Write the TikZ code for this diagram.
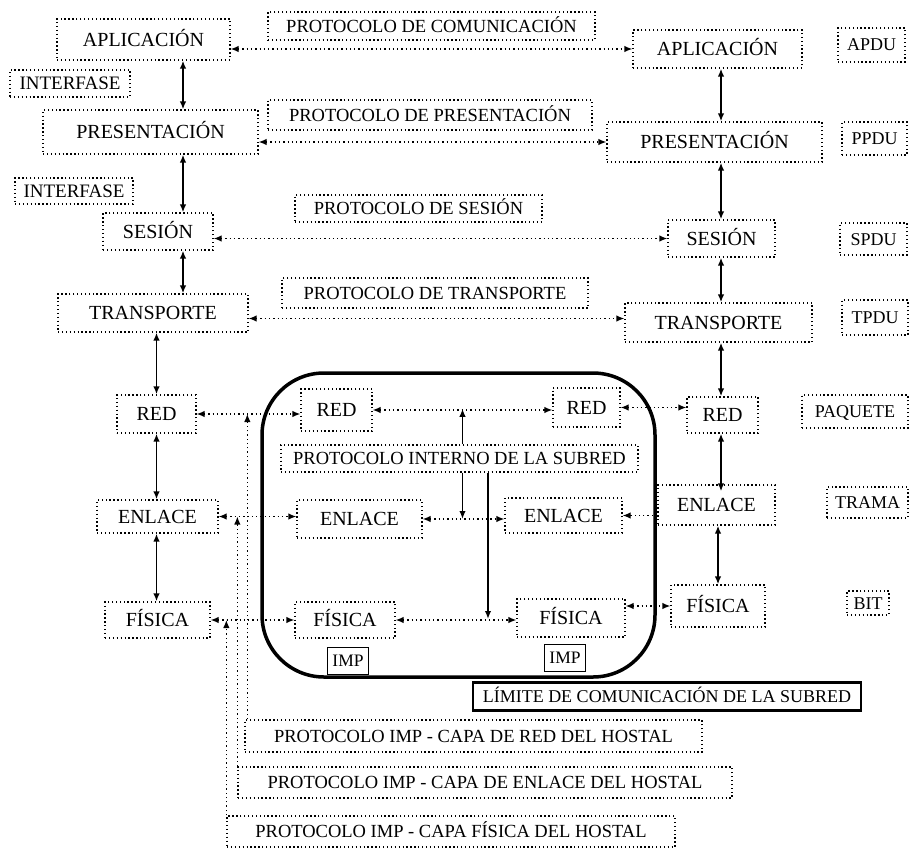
\documentclass[tikz,border=0pt]{standalone}
\usepackage{fontspec}
\setmainfont{Liberation Serif}
\usepackage{tikz}
\usetikzlibrary{calc,arrows.meta}
\tikzset{
  wh/.style 2 args={minimum width=#1pt,minimum height=#2pt},
  dbox/.style={draw,line width=1.3pt,dash pattern=on 1.3pt off 2.6pt,inner sep=0pt,align=center},
  lay/.style={dbox,font=\fontsize{20}{24}\selectfont,text height=13.5pt,text depth=0pt},
  pdu/.style={dbox,font=\fontsize{18}{22}\selectfont,text height=12pt,text depth=0pt},
  prot/.style={dbox,font=\fontsize{18.5}{22}\selectfont,text height=12.3pt,text depth=0pt},
  imp/.style={draw,line width=1.1pt,inner sep=0pt,wh={41}{27},font=\fontsize{17.5}{20}\selectfont,text height=11.6pt,text depth=0pt},
  ar/.style={{Latex[length=8pt,width=6.5pt]}-{Latex[length=8pt,width=6.5pt]},line width=1.8pt},
  ar1/.style={-{Latex[length=8pt,width=6.5pt]},line width=1.8pt},
  dar/.style={{Latex[length=8pt,width=6.5pt]}-{Latex[length=8pt,width=6.5pt]},line width=1.3pt,dash pattern=on 1.3pt off 3pt},
  dar1/.style={-{Latex[length=8pt,width=6.5pt]},line width=1.3pt,dash pattern=on 1.3pt off 3pt}
}

\begin{document}
\begin{tikzpicture}[x=1pt,y=-1pt]
\useasboundingbox (0,0) rectangle (912,848);
% left host
\node[lay,wh={173}{41}] (aplL) at (143.5,39.5) {APLICACIÓN};
\node[pdu,wh={120}{27},font=\fontsize{19}{22}\selectfont] (intA) at (70,83.5) {INTERFASE};
\node[lay,wh={215}{44}] (presL) at (150.5,132) {PRESENTACIÓN};
\node[pdu,wh={118}{26},font=\fontsize{19}{22}\selectfont] (intB) at (74,191) {INTERFASE};
\node[lay,wh={110}{37}] (sesL) at (158,231.5) {SESIÓN};
\node[lay,wh={190}{38}] (trL) at (153,313) {TRANSPORTE};
\node[lay,wh={79}{38}] (redL) at (156.5,414) {RED};
\node[lay,wh={121}{33}] (enlL) at (157.5,516.5) {ENLACE};
\node[lay,wh={105}{36}] (fisL) at (157.5,620) {FÍSICA};
% right host
\node[lay,wh={169}{38}] (aplR) at (717.5,49) {APLICACIÓN};
\node[lay,wh={215}{40}] (presR) at (714.5,142) {PRESENTACIÓN};
\node[lay,wh={107}{37}] (sesR) at (721.5,238.5) {SESIÓN};
\node[lay,wh={187}{39}] (trR) at (718.5,322.5) {TRANSPORTE};
\node[lay,wh={71}{36}] (redR) at (722.5,415) {RED};
\node[lay,wh={117}{40}] (enlR) at (716.5,505) {ENLACE};
\node[lay,wh={94}{42}] (fisR) at (718,606) {FÍSICA};
% data units
\node[pdu,wh={67}{34}] (apdu) at (871.5,45) {APDU};
\node[pdu,wh={65}{33}] (ppdu) at (874.5,138.5) {PPDU};
\node[pdu,wh={67}{32}] (spdu) at (873.5,239) {SPDU};
\node[pdu,wh={66}{35}] (tpdu) at (875,317.5) {TPDU};
\node[pdu,wh={106}{33}] (paq) at (855,411.5) {PAQUETE};
\node[pdu,wh={81}{31}] (trama) at (867.5,502.5) {TRAMA};
\node[pdu,wh={42}{24}] (bit) at (868,603) {BIT};
% peer protocols
\node[prot,wh={327}{28}] (pApl) at (431.5,26) {PROTOCOLO DE COMUNICACIÓN};
\node[prot,wh={324}{30}] (pPres) at (430,115) {PROTOCOLO DE PRESENTACIÓN};
\node[prot,wh={247}{27}] (pSes) at (418.5,208.5) {PROTOCOLO DE SESIÓN};
\node[prot,wh={306}{30}] (pTr) at (435,293) {PROTOCOLO DE TRANSPORTE};
% subnet
\draw[line width=3.5pt,rounded corners=62pt] (262,373) rectangle (655,677);
\node[prot,wh={357}{27}] (pSub) at (459.5,458.5) {PROTOCOLO INTERNO DE LA SUBRED};
\node[lay,wh={71}{42}] (redA) at (336.5,410) {RED};
\node[lay,wh={67}{39}] (redB) at (586.5,407.5) {RED};
\node[lay,wh={125}{38}] (enlA) at (359.5,519) {ENLACE};
\node[lay,wh={117}{35}] (enlB) at (563.5,515.5) {ENLACE};
\node[lay,wh={100}{36}] (fisA) at (345,620) {FÍSICA};
\node[lay,wh={108}{38}] (fisB) at (571,618) {FÍSICA};
\node[imp] (impA) at (348,661) {IMP};
\node[imp] (impB) at (565,658) {IMP};
\node[draw,line width=2.4pt,inner sep=0pt,wh={388}{28},font=\fontsize{18}{22}\selectfont,text height=12pt,text depth=0pt] (lim) at (667,696.5) {LÍMITE DE COMUNICACIÓN DE LA SUBRED};
% IMP - host protocols
\node[prot,wh={457}{32}] (pRedH) at (473.5,736) {PROTOCOLO IMP - CAPA DE RED DEL HOSTAL};
\node[prot,wh={494}{31}] (pEnlH) at (485,782.5) {PROTOCOLO IMP - CAPA DE ENLACE DEL HOSTAL};
\node[prot,wh={448}{31}] (pFisH) at (451,831.5) {PROTOCOLO IMP - CAPA FÍSICA DEL HOSTAL};

% interfaces
\coordinate (cL) at (183,0);
\coordinate (cR) at (721,0);
\draw[ar] (aplL.south -| cL) -- (presL.north -| cL);
\draw[ar] (presL.south -| cL) -- (sesL.north -| cL);
\draw[ar] (sesL.south -| cL) -- (trL.north -| cL);
\draw[ar] (trL.south -| redL) -- (redL.north);
\draw[ar] (redL.south) -- (enlL.north -| redL);
\draw[ar] (enlL.south -| redL) -- (fisL.north -| redL);
\draw[ar] (aplR.south -| cR) -- (presR.north -| cR);
\draw[ar] (presR.south -| cR) -- (sesR.north -| cR);
\draw[ar] (sesR.south -| cR) -- (trR.north -| cR);
\draw[ar] (trR.south -| cR) -- (redR.north -| cR);
\draw[ar] (redR.south -| cR) -- ([yshift=-7pt]enlR.north -| cR);
\draw[ar] (enlR.south -| fisR) -- (fisR.north);

% peer connectors
\draw[dar] (aplL.east |- aplR.west) -- (aplR.west);
\draw[dar] (presL.east |- presR.west) -- (presR.west);
\draw[dar] (sesL.east |- sesR.west) -- (sesR.west);
\draw[dar] ([yshift=4pt]trL.east |- trR.west) -- ([yshift=4pt]trR.west);
\draw[dar] (redL.east) -- (redL.east -| redA.west);
\draw[dar] (redA.east) -- (redA.east -| redB.west);
\draw[dar] (redB.east) -- (redB.east -| redR.west);
\draw[dar] (enlL.east) -- (enlL.east -| enlA.west);
\draw[dar] (enlA.east) -- (enlA.east -| enlB.west);
\draw[dar1] (enlR.west |- enlB.east) -- (enlB.east);
\draw[dar] (fisL.east) -- (fisL.east -| fisA.west);
\draw[dar] (fisA.east) -- (fisA.east -| fisB.west);
\draw[dar] (fisB.east |- fisR.west) -- (fisR.west);

% subnet protocol
\coordinate (jR) at ($(redA.east)!0.5!(redB.west)$);
\coordinate (jF) at (488,619);
\draw[ar1] (pSub.north -| jR) -- (jR);
\draw[ar1] (pSub.south -| jR) -- (jR |- enlA.east);
\draw[ar1] (pSub.south -| jF) -- (jF);

% IMP - host lines
\draw[dar1] ([xshift=3pt]pRedH.north west) -- ([xshift=3pt]pRedH.north west |- redL.east);
\draw[dar1] (pEnlH.north west) -- (pEnlH.north west |- enlL.east);
\draw[dar1] (pFisH.north west) -- (pFisH.north west |- fisL.east);
\end{tikzpicture}
\end{document}
